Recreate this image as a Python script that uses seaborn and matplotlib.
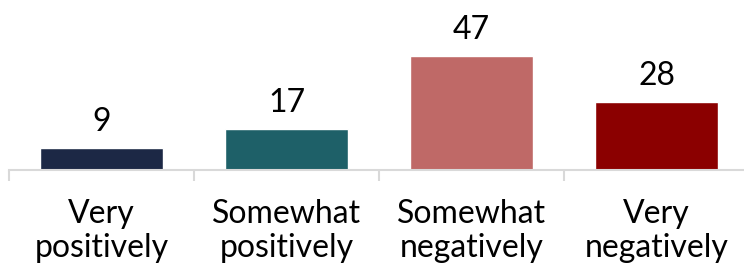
import matplotlib
matplotlib.use("Agg")
import matplotlib.pyplot as plt
import seaborn as sns
import pandas as pd

# datos del grafico
categorias = ["Very\npositively", "Somewhat\npositively", "Somewhat\nnegatively", "Very\nnegatively"]
valores = [9, 17, 47, 28]
colores = ["#1c2845", "#1e6068", "#bf6967", "#8b0000"]

df = pd.DataFrame({"Categoria": categorias, "Valor": valores})

sns.set_theme(style="white")
plt.rcParams["font.family"] = ["Lato", "DejaVu Sans"]

fig = plt.figure(figsize=(7.44, 2.68), dpi=100)
ax = fig.add_axes([9 / 744, 98 / 268, 740 / 744, 170 / 268])

sns.barplot(data=df, x="Categoria", y="Valor", hue="Categoria", palette=colores,
            width=0.66, legend=False, ax=ax, saturation=1)

for container in ax.containers:
    ax.bar_label(container, fmt="%d", padding=8, size=23, color="black")

ax.set_xlim(-0.5, 3.5)
ax.set_ylim(0, 70.2)
ax.set_xlabel("")
ax.set_ylabel("")
ax.set_yticks([])

for side in ["left", "right", "top"]:
    ax.spines[side].set_visible(False)
ax.spines["bottom"].set_color("#d9d9d9")
ax.spines["bottom"].set_linewidth(1.5)

# marcas de separacion entre categorias
ax.set_xticks([-0.5, 0.5, 1.5, 2.5, 3.5], minor=True)
ax.tick_params(axis="x", which="minor", length=8, width=1.5, color="#d9d9d9", bottom=True)
ax.tick_params(axis="x", which="major", length=0, pad=21, labelsize=23, labelcolor="black")
for lbl in ax.get_xticklabels():
    lbl.set_linespacing(1.18)

fig.savefig("out.png", dpi=100)
